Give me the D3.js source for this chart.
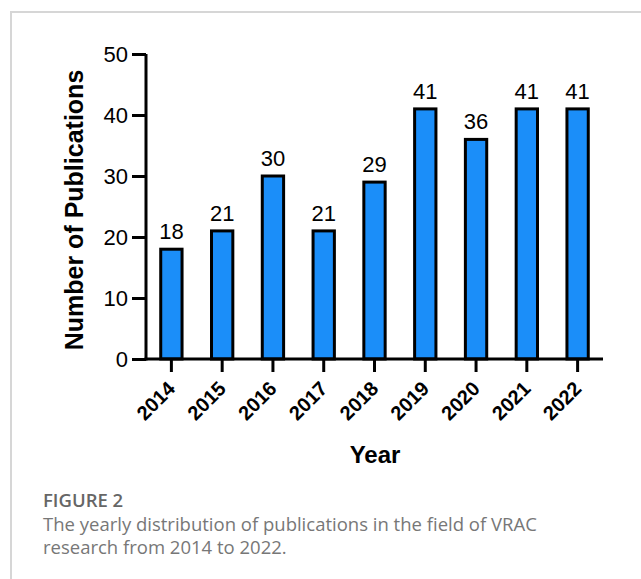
<!DOCTYPE html>
<html lang="en">
<head>
<meta charset="utf-8">
<title>Figure 2</title>
<script src="https://d3js.org/d3.v7.min.js"></script>
<style>
  body { margin: 0; background: #fff; }
  svg { display: block; }
</style>
</head>
<body>
<script>
  // data
  var years = ["2014", "2015", "2016", "2017", "2018", "2019", "2020", "2021", "2022"];
  var counts = [18, 21, 30, 21, 29, 41, 36, 41, 41];
  var yTicks = [0, 10, 20, 30, 40, 50];
  var captionTitle = "FIGURE 2";
  var captionLines = [
    "The yearly distribution of publications in the field of VRAC",
    "research from 2014 to 2022."
  ];

  var width = 641, height = 579;
  var svg = d3.select("body").append("svg")
      .attr("width", width)
      .attr("height", height);

  // light frame (top and left edges only)
  svg.append("path")
      .attr("d", "M11," + height + "V12H" + width)
      .attr("fill", "none")
      .attr("stroke", "#d6d6d6")
      .attr("stroke-width", 2);

  var x = d3.scaleBand()
      .domain(years)
      .range([146, 603])
      .paddingInner(0.58)
      .paddingOuter(0.29);

  var y = d3.scaleLinear()
      .domain([0, 50])
      .range([359, 54]);

  var font = "'Liberation Sans', Arial, Helvetica, sans-serif";

  // bars
  svg.append("g")
    .selectAll("rect")
    .data(counts)
    .join("rect")
      .attr("x", function(d, i) { return x(years[i]); })
      .attr("y", function(d) { return y(d); })
      .attr("width", x.bandwidth())
      .attr("height", function(d) { return y(0) - y(d); })
      .attr("fill", "#1b8ef9")
      .attr("stroke", "#000")
      .attr("stroke-width", 3);

  // value labels
  svg.append("g")
    .selectAll("text")
    .data(counts)
    .join("text")
      .attr("x", function(d, i) { return x(years[i]) + x.bandwidth() / 2; })
      .attr("y", function(d) { return y(d) - 10; })
      .attr("text-anchor", "middle")
      .attr("font-family", font)
      .attr("font-size", 22)
      .attr("fill", "#000")
      .text(function(d) { return d; });

  // y axis
  var yAxis = svg.append("g")
      .attr("transform", "translate(146,0)")
      .call(d3.axisLeft(y).tickValues(yTicks).tickSize(14).tickSizeOuter(0).tickPadding(4));
  yAxis.select(".domain").attr("stroke-width", 3).attr("d", "M0," + y(50) + "V" + (y(0) + 1.5));
  yAxis.selectAll(".tick line").attr("stroke-width", 3);
  yAxis.selectAll(".tick text")
      .attr("font-family", font)
      .attr("font-size", 22)
      .attr("fill", "#000");

  // x axis
  var xAxis = svg.append("g")
      .attr("transform", "translate(0," + y(0) + ")")
      .call(d3.axisBottom(x).tickSize(13).tickSizeOuter(0));
  xAxis.select(".domain").attr("stroke-width", 3).attr("d", "M144.5,0H603");
  xAxis.selectAll(".tick line").attr("stroke-width", 3);
  xAxis.selectAll(".tick text")
      .attr("font-family", font)
      .attr("font-size", 20)
      .attr("font-weight", "bold")
      .attr("fill", "#000")
      .attr("text-anchor", "end")
      .attr("y", 0)
      .attr("dy", 0)
      .attr("transform", "translate(5,31) rotate(-45)");

  // axis titles
  svg.append("text")
      .attr("x", 375)
      .attr("y", 463)
      .attr("text-anchor", "middle")
      .attr("font-family", font)
      .attr("font-size", 24)
      .attr("font-weight", "bold")
      .text("Year");

  svg.append("text")
      .attr("transform", "translate(83,210) rotate(-90)")
      .attr("text-anchor", "middle")
      .attr("font-family", font)
      .attr("font-size", 25)
      .attr("font-weight", "bold")
      .text("Number of Publications");

  // caption
  var capFont = "'Open Sans', 'Noto Sans', sans-serif";
  svg.append("text")
      .attr("x", 43)
      .attr("y", 507)
      .attr("font-family", capFont)
      .attr("font-size", 18.5)
      .attr("font-weight", 600)
      .attr("fill", "#666")
      .text(captionTitle);

  svg.append("g")
    .selectAll("text")
    .data(captionLines)
    .join("text")
      .attr("x", 43)
      .attr("y", function(d, i) { return 531 + i * 23; })
      .attr("font-family", capFont)
      .attr("font-size", 18.5)
      .attr("fill", "#777")
      .text(function(d) { return d; });
</script>
</body>
</html>
